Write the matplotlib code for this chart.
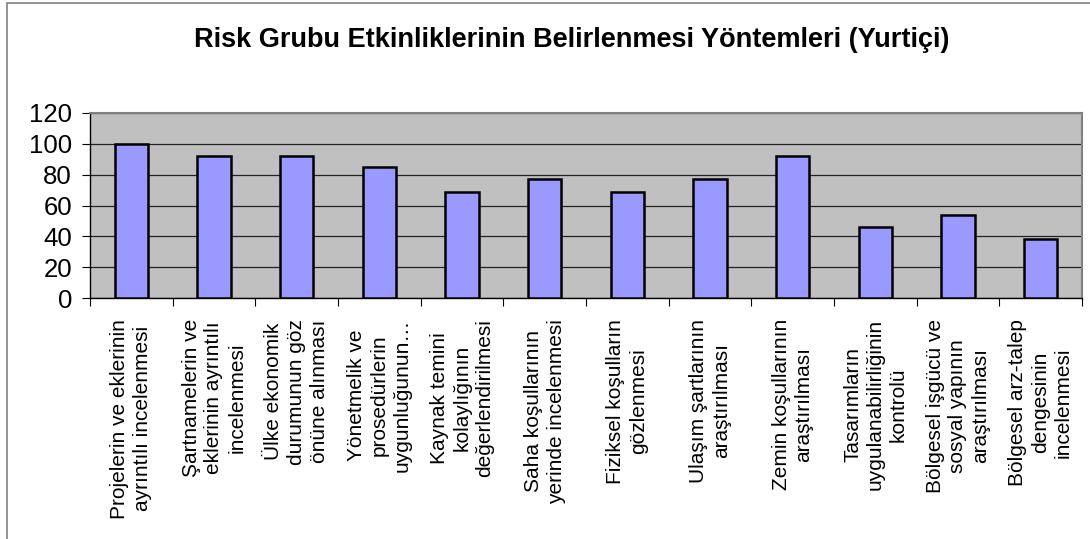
import matplotlib.pyplot as plt
import matplotlib.patches as mpatches
import numpy as np

plt.rcParams['font.family'] = ['Liberation Sans', 'DejaVu Sans']

# === Data ===
categories = [
    "Projelerin ve eklerinin\nayrıntılı incelenmesi",
    "Şartnamelerin ve\neklerinin ayrıntılı\nincelenmesi",
    "Ülke ekonomik\ndurumunun göz\nönüne alınması",
    "Yönetmelik ve\nprosedürlerin\nuygunluğunun…",
    "Kaynak temini\nkolaylığının\ndeğerlendirilmesi",
    "Saha koşullarının\nyerinde incelenmesi",
    "Fiziksel koşulların\ngözlenmesi",
    "Ulaşım şartlarının\naraştırılması",
    "Zemin koşullarının\naraştırılması",
    "Tasarımların\nuygulanabilirliğinin\nkontrolü",
    "Bölgesel işgücü ve\nsosyal yapının\naraştırılması",
    "Bölgesel arz-talep\ndengesinin\nincelenmesi",
]
values = [100, 92, 92, 85, 69, 77, 69, 77, 92, 46, 54, 38]
y_ticks = [0, 20, 40, 60, 80, 100, 120]
title = "Risk Grubu Etkinliklerinin Belirlenmesi Yöntemleri (Yurtiçi)"

W, H = 1090, 539
fig = plt.figure(figsize=(W / 100, H / 100), dpi=100)

# outer chart frame (cropped on right and bottom)
fig.patches.append(mpatches.Rectangle((7 / W, -0.1), 1.2, 1 - 3 / H + 0.1,
                                      transform=fig.transFigure, fill=False,
                                      edgecolor='#808080', linewidth=1.2))

left, right, top, bottom = 90, 1082, 113, 298
ax = fig.add_axes([left / W, 1 - bottom / H, (right - left) / W, (bottom - top) / H])
ax.set_facecolor('#C0C0C0')

x = np.arange(len(values))
ax.bar(x, values, width=0.4, color='#9999FF', edgecolor='black', linewidth=1.8, zorder=3)

ax.set_ylim(0, 120)
ax.set_xlim(-0.5, len(values) - 0.5)
ax.set_yticks(y_ticks)
ax.set_yticklabels([str(v) for v in y_ticks], fontsize=18.5)
ax.yaxis.grid(True, color='#222222', linewidth=0.9, zorder=1)
ax.set_axisbelow(True)

# x ticks at category boundaries, labels at centres
ax.set_xticks(np.arange(-0.5, len(values)), minor=False)
ax.set_xticklabels([])
ax.set_xticks(x, minor=True)
ax.set_xticklabels(categories, minor=True, rotation=90, fontsize=15,
                   ha='center', va='top', multialignment='center', linespacing=1.25)
ax.tick_params(axis='x', which='minor', length=0, pad=15)
ax.tick_params(axis='x', which='major', length=6, direction='out', color='black')
ax.tick_params(axis='y', length=6, direction='out', pad=7)

for s in ['top', 'right']:
    ax.spines[s].set_color('#808080')
    ax.spines[s].set_linewidth(1.5)
for s in ['left', 'bottom']:
    ax.spines[s].set_color('black')
    ax.spines[s].set_linewidth(1.0)

fig.text(572 / W, 1 - 40 / H, title, ha='center', va='center',
         fontsize=19.5, fontweight='bold')

fig.savefig('out.png', dpi=100)
